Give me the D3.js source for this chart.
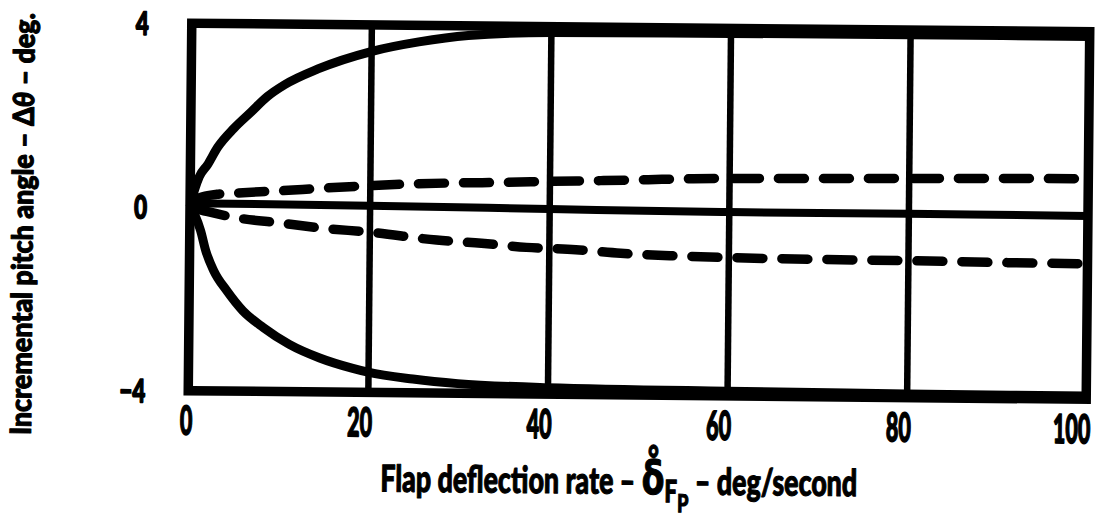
<!DOCTYPE html>
<html>
<head>
<meta charset="utf-8">
<script src="https://cdn.jsdelivr.net/npm/d3@7"></script>
<style>
  html, body { margin: 0; padding: 0; background: #fff; }
  svg { display: block; }
</style>
</head>
<body>
<svg id="chart" width="1098" height="519"></svg>
<script>
// Tick values and their printed labels
const xTicks = [0, 20, 40, 60, 80, 100];
const xTickLabels = ["0", "20", "40", "60", "80", "100"];
const yTicks = [4, 0, -4];
const yTickLabels = ["4", "0", "\u22124"];
const gridX = [20, 40, 60, 80];

// Incremental pitch angle (deg) vs flap deflection rate (deg/s), [rate, angle]
const upperEnvelope = [[0, 0], [0.5, 0.38], [1, 0.66], [1.9, 0.92], [3, 1.3], [4.8, 1.72], [6.7, 2.08],
  [8.5, 2.42], [10.4, 2.68], [14.1, 3.03], [20, 3.42], [25.3, 3.64], [30.8, 3.79], [40, 3.87],
  [60, 3.89], [80, 3.9], [100, 3.9]];
const lowerEnvelope = [[0, 0], [0.6, -0.2], [1.2, -0.51], [1.8, -0.95], [2.7, -1.38], [4.2, -1.82],
  [6, -2.25], [8.3, -2.61], [11.2, -2.97], [14.6, -3.26], [18.3, -3.48], [20, -3.56], [25, -3.7],
  [30, -3.79], [40, -3.86], [60, -3.9], [80, -3.92], [100, -3.93]];
const nominalLine = [[0, 0], [2, 0.08], [20, 0.065], [40, 0.03], [60, 0.0], [80, 0.0], [100, -0.01]];
const upperDashed = [[0, 0], [1, 0.2], [3, 0.28], [5, 0.31], [10, 0.37], [15, 0.44], [20, 0.5], [25, 0.55],
  [30, 0.58], [35, 0.6], [40, 0.63], [46, 0.66], [51, 0.69], [56, 0.72], [70, 0.75], [80, 0.77], [90, 0.79], [100, 0.8]];
const lowerDashed = [[0, 0], [2, -0.1], [5, -0.22], [10, -0.33], [15, -0.44], [20, -0.51], [27.5, -0.67],
  [32.5, -0.73], [37.5, -0.81], [43, -0.85], [48, -0.92], [53.5, -0.96], [60, -0.99], [70, -1.01],
  [80, -1.02], [90, -1.04], [100, -1.05]];

const FONT = 'Lato, "DejaVu Sans Condensed", "Liberation Sans", sans-serif';
const WEIGHT = 900;
const plot = { left: 190, right: 1088, top: 27.5, bottom: 395 };

const x = d3.scaleLinear().domain([0, 100]).range([plot.left, plot.right]);
const y = d3.scaleLinear().domain([-4, 4]).range([plot.bottom, plot.top]);

const svg = d3.select("#chart");
svg.append("rect").attr("width", 1098).attr("height", 519).attr("fill", "#fff");

// the printed sheet sits slightly skewed
const root = svg.append("g").attr("transform", "rotate(0.55 640 210)");

// heavy lettering: bold face plus a thin outline
function ink(sel, size, outline) {
  return sel.attr("font-family", FONT).attr("font-weight", WEIGHT).attr("font-size", size)
    .attr("fill", "#000").attr("stroke", "#000").attr("stroke-width", outline)
    .attr("stroke-linejoin", "round");
}

// horizontal squeeze that makes a "0" the given width
function squeeze(size, width) {
  const probe = root.append("text").attr("font-family", FONT).attr("font-weight", WEIGHT)
    .attr("font-size", size).text("0");
  const s = width / probe.node().getComputedTextLength();
  probe.remove();
  return s;
}

// vertical grid lines
root.append("g")
  .attr("transform", `translate(0,${plot.bottom})`)
  .call(d3.axisBottom(x).tickValues(gridX).tickSize(-(plot.bottom - plot.top)).tickFormat(""))
  .call(g => g.select(".domain").remove())
  .call(g => g.selectAll(".tick line").attr("stroke", "#000").attr("stroke-width", 6.5));

// plot frame
root.append("rect")
  .attr("x", plot.left).attr("y", plot.top)
  .attr("width", plot.right - plot.left).attr("height", plot.bottom - plot.top)
  .attr("fill", "none").attr("stroke", "#000").attr("stroke-width", 9.5);

// curves
const line = d3.line().x(d => x(d[0])).y(d => y(d[1])).curve(d3.curveMonotoneX);
const curves = root.append("g").attr("fill", "none").attr("stroke", "#000");
curves.append("path").attr("d", line(upperEnvelope)).attr("stroke-width", 9);
curves.append("path").attr("d", line(lowerEnvelope)).attr("stroke-width", 9);
curves.append("path").attr("d", line(nominalLine)).attr("stroke-width", 8);
curves.append("path").attr("d", line(upperDashed)).attr("stroke-width", 9.5)
  .attr("stroke-dasharray", "26 19").attr("stroke-linecap", "round").attr("stroke-dashoffset", -8);
curves.append("path").attr("d", line(lowerDashed)).attr("stroke-width", 9.5)
  .attr("stroke-dasharray", "26 19").attr("stroke-linecap", "round").attr("stroke-dashoffset", -10);

// x tick labels
const X_TICK_SIZE = 40;
const xSqueeze = squeeze(X_TICK_SIZE, 12.5);
root.append("g")
  .attr("transform", `translate(0,${plot.bottom})`)
  .call(d3.axisBottom(x).tickValues(xTicks).tickSize(0).tickFormat((d, i) => xTickLabels[i]))
  .call(g => g.select(".domain").remove())
  .call(g => ink(g.selectAll(".tick text"), X_TICK_SIZE, 1.6)
    .attr("x", null).attr("y", null).attr("dy", null)
    .attr("text-anchor", "end")
    .attr("transform", `translate(4,44) scale(${xSqueeze},1)`));

// y tick labels
const Y_TICK_SIZE = 32;
const ySqueeze = squeeze(Y_TICK_SIZE, 13);
root.append("g")
  .attr("transform", "translate(147,0)")
  .call(d3.axisLeft(y).tickValues(yTicks).tickSize(0).tickFormat(d => yTickLabels[yTicks.indexOf(d)]))
  .call(g => g.select(".domain").remove())
  .call(g => ink(g.selectAll(".tick text"), Y_TICK_SIZE, 1.6)
    .attr("x", null).attr("dy", "0.36em")
    .attr("text-anchor", "end")
    .attr("transform", `scale(${ySqueeze},1)`));

// y axis title
const yTitle = root.append("g").attr("transform", "translate(33,230) rotate(-90)");
const yt = ink(yTitle.append("text"), 29, 1.1).attr("text-anchor", "middle");
yt.append("tspan").text("Incremental pitch angle \u2013 \u0394");
yt.append("tspan").attr("font-style", "italic").text("\u03b8");
yt.append("tspan").text(" \u2013 deg.");
yt.attr("transform", `scale(${422 / yt.node().getComputedTextLength()},1)`);

// x axis title
const xTitle = root.append("g").attr("transform", "translate(383,494)");
const xt = ink(xTitle.append("text"), 37, 1.1);
xt.append("tspan").text("Flap deflection rate \u2013 ");
xt.append("tspan").attr("font-size", 46).attr("font-family", '"DejaVu Sans", sans-serif')
  .attr("font-weight", "bold").text("\u03b4\u030a");
xt.append("tspan").attr("font-size", 31).attr("dy", 8).text("F");
xt.append("tspan").attr("font-size", 25).attr("dy", 10).text("P");
xt.append("tspan").attr("dy", -18).text(" \u2013 deg/second");
xt.attr("transform", `scale(${477 / xt.node().getComputedTextLength()},1)`);
</script>
</body>
</html>
